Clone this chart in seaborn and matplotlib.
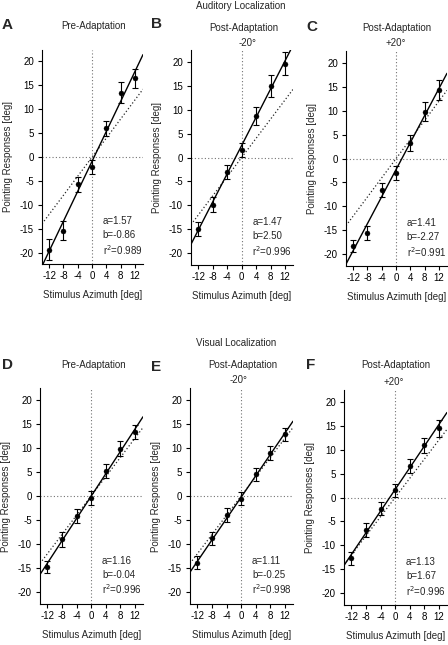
import numpy as np
import pandas as pd
import seaborn as sns
import matplotlib.pyplot as plt

sns.set_style("ticks")
plt.rcParams['font.family'] = ['Liberation Sans', 'DejaVu Sans']
plt.rcParams['font.size'] = 7
plt.rcParams['axes.labelsize'] = 7
plt.rcParams['xtick.labelsize'] = 7
plt.rcParams['ytick.labelsize'] = 7
plt.rcParams['axes.unicode_minus'] = False
plt.rcParams['axes.edgecolor'] = 'black'
plt.rcParams['axes.linewidth'] = 0.8
plt.rcParams['xtick.color'] = 'black'
plt.rcParams['ytick.color'] = 'black'
plt.rcParams['xtick.major.size'] = 2.8
plt.rcParams['ytick.major.size'] = 2.8
plt.rcParams['xtick.major.width'] = 0.8
plt.rcParams['ytick.major.width'] = 0.8
plt.rcParams['xtick.major.pad'] = 2.5
plt.rcParams['ytick.major.pad'] = 3

# stimulus azimuths (deg)
stim = [-12, -8, -4, 0, 4, 8, 12]

# auditory localization: mean pointing response and error
aud_pre = [-19.4, -15.4, -5.75, -2.1, 6.0, 13.5, 16.5]
aud_pre_err = [2.2, 1.9, 1.5, 1.5, 1.5, 2.1, 2.0]
aud_m20 = [-14.9, -9.8, -3.0, 1.6, 8.6, 14.9, 19.5]
aud_m20_err = [1.5, 1.6, 1.5, 1.4, 1.9, 2.2, 2.4]
aud_p20 = [-18.2, -15.5, -6.6, -3.0, 3.25, 9.75, 14.2]
aud_p20_err = [1.3, 1.5, 1.5, 1.4, 1.6, 2.0, 2.1]

# visual localization
vis_pre = [-14.7, -9.0, -4.1, -0.4, 5.15, 9.8, 13.3]
vis_pre_err = [1.3, 1.5, 1.5, 1.4, 1.5, 1.6, 1.4]
vis_m20 = [-13.8, -8.8, -3.9, -0.55, 4.5, 9.0, 12.8]
vis_m20_err = [1.3, 1.4, 1.4, 1.3, 1.4, 1.45, 1.4]
vis_p20 = [-12.7, -6.8, -2.3, 1.5, 6.6, 10.9, 14.4]
vis_p20_err = [1.3, 1.4, 1.4, 1.4, 1.5, 1.6, 1.8]

# regression fits (slope a, intercept b, r^2)
slopes = [1.57, 1.47, 1.41, 1.16, 1.11, 1.13]
intercepts = [-0.86, 2.50, -2.27, -0.04, -0.25, 1.67]
r2 = [0.989, 0.996, 0.991, 0.996, 0.998, 0.996]

letters = ["A", "B", "C", "D", "E", "F"]
conditions = ["Pre-Adaptation", "Post-Adaptation", "Post-Adaptation",
              "Pre-Adaptation", "Post-Adaptation", "Post-Adaptation"]
shifts = ["", "-20\u00b0", "+20\u00b0", "", "-20\u00b0", "+20\u00b0"]

means = [aud_pre, aud_m20, aud_p20, vis_pre, vis_m20, vis_p20]
errs = [aud_pre_err, aud_m20_err, aud_p20_err, vis_pre_err, vis_m20_err, vis_p20_err]

W, H = 448, 645
# axes boxes in pixels: left, top, right, bottom
boxes = [(42, 50, 143, 264), (191, 50, 293, 265), (346, 51, 447, 266),
         (40, 388, 143, 604), (190, 388, 293, 604), (344, 390, 447, 605)]
# letter / subtitle positions in pixels
letter_pos = [(7, 25), (156, 24), (312, 27), (7, 365), (156, 367), (311, 365)]
cond_pos = [(94, 26), (244, 28), (397, 28), (94, 365), (243, 365), (396, 365)]
shift_pos = [None, (248, 43), (396, 43), None, (239, 380), (394, 382)]


def px(x, y):
    return x / W, 1 - y / H


fig = plt.figure(figsize=(W / 100, H / 100), dpi=100)

for i in range(6):
    l, t, r, b = boxes[i]
    ax = fig.add_axes([l / W, 1 - b / H, (r - l) / W, (b - t) / H])
    df = pd.DataFrame({"Stimulus": stim, "Response": means[i]})

    ax.axvline(0, color="0.45", ls=(0, (1, 2)), lw=0.8, zorder=1)
    ax.axhline(0, color="0.45", ls=(0, (1, 2)), lw=0.8, zorder=1)
    ax.axline((0, 0), slope=1, color="0.15", ls=(0, (1, 1.8)), lw=0.9, zorder=2)
    ax.axline((0, intercepts[i]), slope=slopes[i], color="black", lw=1.0, zorder=3)
    ax.errorbar(stim, means[i], yerr=errs[i], fmt="none", ecolor="black",
                elinewidth=0.8, capsize=2, capthick=0.8, zorder=4)
    sns.scatterplot(data=df, x="Stimulus", y="Response", color="black",
                    s=13, edgecolor="black", linewidth=0.3, ax=ax, zorder=5)

    ax.set_xlim(-14, 14.2)
    ax.set_ylim(-22.4, 22.4)
    ax.set_xticks(stim)
    ax.set_yticks(np.arange(-20, 21, 5))
    ax.set_xlabel("Stimulus Azimuth [deg]", labelpad=6.5)
    ax.set_ylabel("Pointing Responses [deg]", labelpad=5)
    sns.despine(ax=ax)

    ytxt = [-13.4, -16.4, -19.4]
    ax.text(3, ytxt[0], f"a={slopes[i]:.2f}", fontsize=7, va="center")
    ax.text(3, ytxt[1], f"b={intercepts[i]:.2f}", fontsize=7, va="center")
    ax.text(3, ytxt[2], f"r$^2$={r2[i]:.3f}", fontsize=7, va="center")

    fig.text(*px(*letter_pos[i]), letters[i], fontsize=11, fontweight="bold",
             ha="center", va="center")
    fig.text(*px(*cond_pos[i]), conditions[i], ha="center", va="center")
    if shift_pos[i] is not None:
        fig.text(*px(*shift_pos[i]), shifts[i], ha="center", va="center")

fig.text(*px(241, 6), "Auditory Localization", ha="center", va="center")
fig.text(*px(236, 343), "Visual Localization", ha="center", va="center")

fig.savefig("out.png", dpi=100)
